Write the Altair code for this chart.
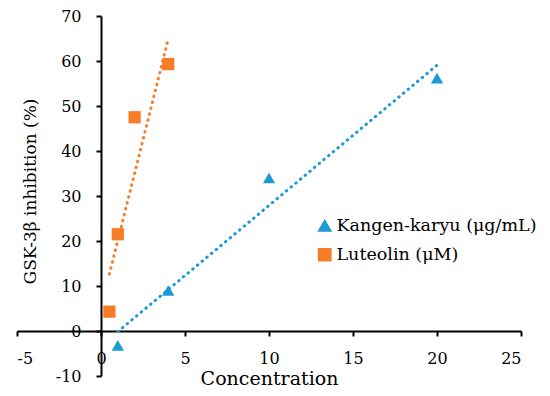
import altair as alt
import pandas as pd

series_names = ["Kangen-karyu (μg/mL)", "Luteolin (μM)"]
kangen_x = [1, 4, 10, 20]
kangen_y = [-3.2, 9.0, 34.0, 56.2]
luteolin_x = [0.5, 1, 2, 4]
luteolin_y = [4.3, 21.5, 47.5, 59.3]
x_ticks = [-5, 0, 5, 10, 15, 20, 25]
y_ticks = [-10, 0, 10, 20, 30, 40, 50, 60, 70]
colors = ["#1C9AD6", "#F67D27"]
shapes = ["triangle-up", "square"]

rows = []
for xv, yv in zip(kangen_x, kangen_y):
    rows.append({"series": series_names[0], "x": xv, "y": yv})
for xv, yv in zip(luteolin_x, luteolin_y):
    rows.append({"series": series_names[1], "x": xv, "y": yv})
df = pd.DataFrame(rows)

FONT = "DejaVu Serif"
W, H = 504, 360

xscale = alt.Scale(domain=[-5, 25], nice=False, zero=False)
yscale = alt.Scale(domain=[-10, 70], nice=False, zero=False)
cscale = alt.Scale(domain=series_names, range=colors)
sscale = alt.Scale(domain=series_names, range=shapes)

xaxis = alt.Axis(values=x_ticks, grid=False, offset=-45, title="Concentration",
                 titleX=252, titleY=47, titleBaseline="middle", titleFontSize=19,
                 titleFont=FONT, labelFont=FONT, labelExpr="'' + datum.value",
                 labelPadding=14, tickSize=5, labelFontSize=16)
yaxis = alt.Axis(values=y_ticks, grid=False, offset=-84, title="GSK-3β inhibition (%)",
                 titleX=-71, titleY=175, titleBaseline="middle", titleAngle=-90,
                 titleFont=FONT, labelFont=FONT, labelExpr="'' + datum.value",
                 titleFontSize=17, labelPadding=15, tickSize=5, labelFontSize=16)

base = alt.Chart(df)

points = base.mark_point(filled=True, opacity=1, size=150).encode(
    x=alt.X("x:Q", scale=xscale, axis=xaxis),
    y=alt.Y("y:Q", scale=yscale, axis=yaxis),
    color=alt.Color("series:N", scale=cscale,
                    legend=alt.Legend(title=None, orient="none", legendX=299, legendY=201,
                                      symbolSize=150, labelFontSize=17.5, rowPadding=10,
                                      labelOffset=3, labelLimit=0, labelFont=FONT)),
    shape=alt.Shape("series:N", scale=sscale, legend=alt.Legend(title=None)),
)

lines = base.transform_regression("x", "y", groupby=["series"]).mark_line(
    strokeDash=[0.5, 5.6], strokeCap="round", strokeWidth=3
).encode(
    x=alt.X("x:Q", scale=xscale),
    y=alt.Y("y:Q", scale=yscale),
    color=alt.Color("series:N", scale=cscale, legend=None),
)

chart = alt.layer(points, lines).properties(
    width=W, height=H,
    autosize=alt.AutoSizeParams(type="none"),
    padding={"left": 9, "top": 8, "right": 20, "bottom": 12},
).configure(font=FONT).configure_view(stroke=None).configure_axis(
    domainColor="black", domainWidth=2, tickColor="black", tickWidth=2,
    labelFont=FONT, titleFont=FONT, labelColor="black",
    titleColor="black", titleFontWeight="normal",
).configure_legend(labelFont=FONT, labelColor="black", padding=0)

chart.save("out.html", embed_options={"renderer": "svg", "actions": False})
